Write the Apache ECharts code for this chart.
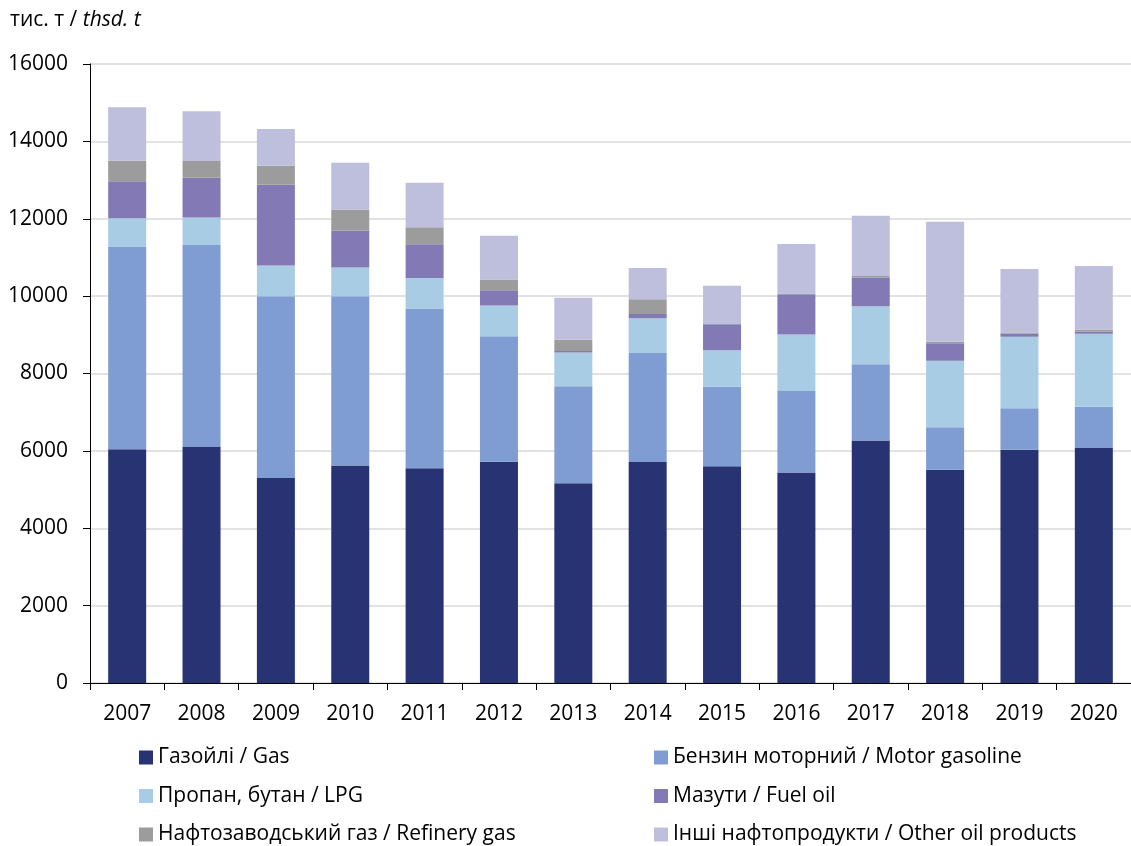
<!DOCTYPE html>
<html>
<head>
<meta charset="utf-8">
<title>Oil products</title>
<script src="https://cdn.jsdelivr.net/npm/echarts@6/dist/echarts.min.js"></script>
<style>
  html, body { margin: 0; padding: 0; background: #fff; }
  #chart { width: 1131px; height: 846px; }
</style>
</head>
<body>
<div id="chart"></div>
<script>
// years on the x axis
const years = ['2007', '2008', '2009', '2010', '2011', '2012', '2013', '2014', '2015', '2016', '2017', '2018', '2019', '2020']

// thsd. t (bottom to top)
const gasOil = [6040, 6110, 5300, 5620, 5550, 5720, 5160, 5710, 5600, 5440, 6270, 5510, 6030, 6090]
const motorGasoline = [5240, 5210, 4700, 4380, 4130, 3240, 2510, 2820, 2060, 2110, 1970, 1100, 1070, 1050]
const lpg = [730, 710, 790, 740, 790, 800, 870, 900, 940, 1460, 1500, 1720, 1850, 1890]
const fuelOil = [960, 1030, 2090, 950, 870, 390, 40, 110, 670, 1040, 740, 450, 80, 50]
const refineryGas = [530, 430, 490, 550, 440, 280, 290, 380, 10, 20, 40, 40, 30, 50]
const otherProducts = [1380, 1290, 950, 1210, 1150, 1130, 1090, 810, 990, 1280, 1560, 3100, 1640, 1650]

const names = {
  gas: 'Газойлі / Gas',
  gasoline: 'Бензин моторний / Motor gasoline',
  lpg: 'Пропан, бутан / LPG',
  fuel: 'Мазути / Fuel oil',
  refinery: 'Нафтозаводський газ / Refinery gas',
  other: 'Інші нафтопродукти / Other oil products'
}

const font = '"Open Sans", "Noto Sans", sans-serif'
const chart = echarts.init(document.getElementById('chart'))

function bar(name, data, color) {
  return {
    name: name,
    type: 'bar',
    stack: 'total',
    barWidth: 38,
    data: data,
    itemStyle: { color: color },
    emphasis: { disabled: true }
  }
}

const legendBase = {
  orient: 'vertical',
  top: 747,
  height: 99,
  padding: 0,
  icon: 'rect',
  itemWidth: 14,
  itemHeight: 14,
  itemGap: 17.5,
  selectedMode: false,
  textStyle: { fontFamily: font, fontSize: 21, color: '#000', lineHeight: 21 }
}

chart.setOption({
  animation: false,
  textStyle: { fontFamily: font },
  graphic: [{
    type: 'text',
    left: 10,
    top: 10,
    style: {
      text: '{n|тис. т / }{i|thsd. t}',
      rich: {
        n: { fontFamily: font, fontSize: 21, fill: '#000' },
        i: { fontFamily: font, fontSize: 21, fontStyle: 'italic', fill: '#000' }
      }
    }
  }],
  legend: [
    Object.assign({}, legendBase, { left: 139, data: [names.gas, names.lpg, names.refinery] }),
    Object.assign({}, legendBase, { left: 654, data: [names.gasoline, names.fuel, names.other] })
  ],
  grid: {
    left: 90,
    top: 64,
    width: 1050,
    height: 619
  },
  xAxis: {
    type: 'category',
    data: years,
    axisLine: { lineStyle: { color: '#000', width: 1 } },
    axisTick: { show: true, length: 7, lineStyle: { color: '#000' } },
    axisLabel: { fontFamily: font, fontSize: 21, color: '#000', margin: 21 }
  },
  yAxis: {
    type: 'value',
    min: 0,
    max: 16000,
    interval: 2000,
    axisLine: { show: true, lineStyle: { color: '#000', width: 1 } },
    axisTick: { show: true, length: 7, lineStyle: { color: '#000' } },
    axisLabel: { fontFamily: font, fontSize: 21, color: '#000', margin: 22, formatter: v => String(v) },
    splitLine: { lineStyle: { color: '#d9d9d9', width: 1.5 } }
  },
  series: [
    bar(names.gas, gasOil, '#283373'),
    bar(names.gasoline, motorGasoline, '#7f9dd2'),
    bar(names.lpg, lpg, '#a9cce5'),
    bar(names.fuel, fuelOil, '#8379b4'),
    bar(names.refinery, refineryGas, '#9c9c9c'),
    bar(names.other, otherProducts, '#bebedd')
  ]
})
</script>
</body>
</html>
